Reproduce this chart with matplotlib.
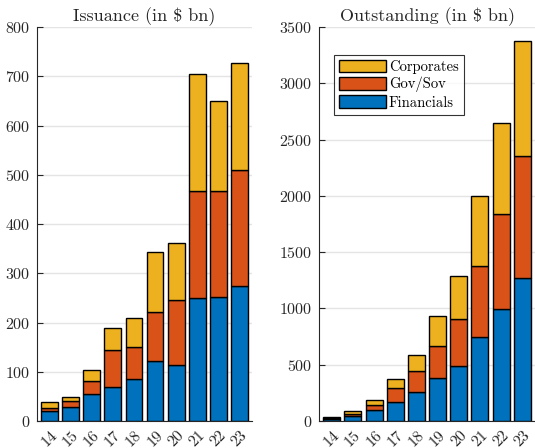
import matplotlib
matplotlib.use("Agg")
import matplotlib.pyplot as plt
import numpy as np

plt.rcParams['font.family'] = ['cmr10', 'DejaVu Serif']
plt.rcParams['axes.formatter.use_mathtext'] = True
plt.rcParams['mathtext.fontset'] = 'cm'

years = ['14', '15', '16', '17', '18', '19', '20', '21', '22', '23']

# issuance, stacked totals (in $ bn)
iss_fin = [20, 29, 54, 69, 85, 122, 114, 250, 252, 275]
iss_gov_top = [27, 40, 82, 145, 150, 222, 246, 466, 466, 510]
iss_corp_top = [38, 49, 103, 188, 210, 344, 361, 705, 649, 726]

# outstanding, stacked totals (in $ bn)
out_fin = [18, 44, 98, 169, 257, 379, 491, 743, 994, 1270]
out_gov_top = [30, 65, 139, 290, 444, 663, 908, 1378, 1840, 2352]
out_corp_top = [38, 86, 186, 376, 583, 929, 1288, 1996, 2646, 3372]

series_names = ['Financials', 'Gov/Sov', 'Corporates']
colors = ['#0072BD', '#D95319', '#EDB120']
txt = '#262626'


def stacked(ax, fin, gov_top, corp_top, title, ymax, ystep):
    x = np.arange(1, len(years) + 1)
    fin = np.array(fin)
    gov = np.array(gov_top) - fin
    corp = np.array(corp_top) - np.array(gov_top)
    kw = dict(width=0.8, edgecolor='black', linewidth=1.0, zorder=3)
    h1 = ax.bar(x, fin, color=colors[0], label=series_names[0], **kw)
    h2 = ax.bar(x, gov, bottom=fin, color=colors[1], label=series_names[1], **kw)
    h3 = ax.bar(x, corp, bottom=np.array(gov_top), color=colors[2],
                label=series_names[2], **kw)
    ax.set_xlim(0.4, len(years) + 0.6)
    ax.set_ylim(0, ymax)
    ax.set_yticks(np.arange(0, ymax + 1, ystep))
    ax.set_xticks(x)
    ax.set_xticklabels(years, rotation=45, ha='center', va='top')
    ax.set_title(title, fontsize=13, color=txt, pad=4)
    ax.grid(axis='y', color='#e4e4e4', linewidth=1.0, zorder=0)
    ax.spines['top'].set_visible(False)
    ax.spines['right'].set_visible(False)
    for s in ('left', 'bottom'):
        ax.spines[s].set_color(txt)
        ax.spines[s].set_linewidth(0.8)
    ax.tick_params(axis='y', direction='in', length=4, labelsize=11.5,
                   colors=txt, pad=5)
    ax.tick_params(axis='x', length=0, labelsize=11.5, colors=txt, pad=5)
    return h1, h2, h3


fig = plt.figure(figsize=(5.35, 4.48), dpi=100)
ax1 = fig.add_axes([37 / 535, 27 / 448, 215 / 535, 394 / 448])
ax2 = fig.add_axes([319 / 535, 27 / 448, 216 / 535, 394 / 448])

stacked(ax1, iss_fin, iss_gov_top, iss_corp_top, r'Issuance (in \$ bn)', 800, 100)
h1, h2, h3 = stacked(ax2, out_fin, out_gov_top, out_corp_top,
                     r'Outstanding (in \$ bn)', 3500, 500)

leg = ax2.legend([h3, h2, h1], [series_names[2], series_names[1], series_names[0]],
                 loc='upper left', bbox_to_anchor=(0.07, 0.93), fontsize=10.5,
                 frameon=True, fancybox=False, edgecolor='black',
                 handlelength=3.2, handleheight=0.95, handletextpad=0.2,
                 labelspacing=0.2, borderpad=0.35, borderaxespad=0.0)
leg.get_frame().set_linewidth(0.8)

fig.savefig('out.png', dpi=100)
